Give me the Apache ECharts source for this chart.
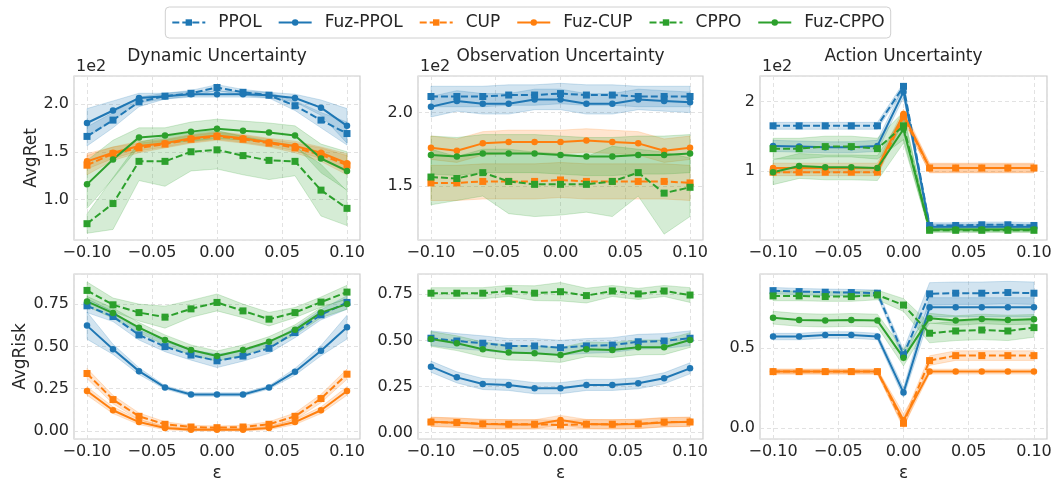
<!DOCTYPE html>
<html>
<head>
<meta charset="utf-8">
<script src="https://cdn.jsdelivr.net/npm/echarts@6/dist/echarts.min.js"></script>
<style>
  html, body { margin: 0; padding: 0; background: #fff; }
  #main { width: 1056px; height: 485px; }
</style>
</head>
<body>
<div id="main"></div>
<script>
const eps = [-0.10, -0.08, -0.06, -0.04, -0.02, 0.00, 0.02, 0.04, 0.06, 0.08, 0.10];
const methods = ['PPOL', 'Fuz-PPOL', 'CUP', 'Fuz-CUP', 'CPPO', 'Fuz-CPPO'];
const titles = ['Dynamic Uncertainty', 'Observation Uncertainty', 'Action Uncertainty'];

// AvgRet (raw units, axis shows them in 1e2)
const dynRetMean = [
  [166, 183, 202, 208, 211, 217, 212, 209, 198, 183, 169],
  [180, 193, 206, 208, 210, 210, 210, 209, 206, 196, 177],
  [136, 148, 154, 158, 163, 166, 163, 159, 154, 147, 136],
  [140, 149, 156, 159, 164, 167, 164, 160, 156, 149, 138],
  [75, 96, 140, 140, 150, 152, 146, 141, 140, 110, 91],
  [116, 142, 165, 167, 171, 174, 172, 170, 167, 143, 130]
];
const dynRetStd = [
  [10, 8, 5, 3, 3, 3, 3, 3, 5, 8, 12],
  [15, 10, 5, 3, 3, 3, 3, 3, 4, 8, 18],
  [10, 7, 5, 4, 4, 4, 4, 4, 5, 7, 10],
  [8, 6, 5, 4, 4, 4, 4, 4, 5, 6, 10],
  [10, 27, 20, 26, 20, 20, 20, 20, 15, 27, 18],
  [25, 20, 10, 8, 10, 10, 10, 10, 10, 15, 20]
];
const obsRetMean = [
  [211, 211, 211, 212, 212, 213, 212, 212, 211, 211, 211],
  [204, 208, 206, 206, 209, 209, 206, 206, 209, 208, 207],
  [152, 152, 153, 153, 153, 154, 153, 153, 153, 153, 152],
  [176, 174, 179, 180, 180, 180, 181, 180, 179, 174, 176],
  [156, 155, 159, 153, 151, 151, 151, 153, 159, 145, 149],
  [171, 170, 172, 172, 172, 171, 170, 170, 171, 171, 172]
];
const obsRetStd = [
  [7, 7, 7, 7, 7, 7, 7, 7, 7, 7, 7],
  [7, 7, 7, 7, 7, 7, 7, 7, 7, 7, 7],
  [12, 12, 12, 12, 12, 12, 12, 12, 12, 12, 12],
  [8, 8, 8, 8, 8, 8, 8, 8, 8, 8, 8],
  [19, 15, 16, 22, 22, 21, 19, 24, 16, 28, 20],
  [13, 13, 13, 13, 13, 13, 13, 13, 13, 13, 13]
];
const actRetMean = [
  [165, 165, 165, 165, 165, 222, 21, 21, 22, 22, 21],
  [136, 135, 134, 134, 136, 214, 19, 19, 19, 19, 19],
  [98, 98, 98, 98, 98, 178, 104, 104, 104, 104, 104],
  [104, 104, 104, 104, 104, 182, 104, 104, 104, 104, 104],
  [132, 132, 135, 135, 132, 165, 14, 14, 14, 14, 14],
  [98, 107, 105, 105, 104, 160, 15, 15, 15, 15, 15]
];
const actRetStd = [
  [5, 5, 5, 5, 5, 5, 4, 4, 4, 4, 4],
  [8, 8, 8, 8, 8, 8, 4, 4, 4, 4, 4],
  [5, 5, 5, 5, 5, 6, 6, 6, 6, 6, 6],
  [7, 7, 7, 7, 7, 7, 7, 7, 7, 7, 7],
  [15, 15, 15, 15, 15, 20, 3, 3, 3, 3, 3],
  [18, 18, 18, 18, 18, 20, 3, 3, 3, 3, 3]
];

// AvgRisk
const dynRiskMean = [
  [0.74, 0.677, 0.568, 0.499, 0.449, 0.415, 0.443, 0.489, 0.582, 0.687, 0.76],
  [0.623, 0.483, 0.354, 0.258, 0.216, 0.216, 0.216, 0.258, 0.35, 0.475, 0.614],
  [0.34, 0.186, 0.087, 0.04, 0.024, 0.02, 0.024, 0.04, 0.087, 0.192, 0.336],
  [0.237, 0.123, 0.053, 0.018, 0.008, 0.008, 0.008, 0.018, 0.053, 0.123, 0.237],
  [0.831, 0.746, 0.70, 0.673, 0.722, 0.76, 0.71, 0.661, 0.70, 0.762, 0.821],
  [0.766, 0.697, 0.611, 0.538, 0.479, 0.443, 0.479, 0.528, 0.598, 0.70, 0.75]
];
const dynRiskStd = [
  [0.04, 0.03, 0.03, 0.03, 0.03, 0.04, 0.03, 0.03, 0.03, 0.03, 0.04],
  [0.08, 0.03, 0.02, 0.01, 0.01, 0.01, 0.01, 0.01, 0.02, 0.03, 0.07],
  [0.03, 0.025, 0.02, 0.015, 0.01, 0.01, 0.01, 0.015, 0.02, 0.025, 0.03],
  [0.025, 0.02, 0.015, 0.01, 0.008, 0.008, 0.008, 0.01, 0.015, 0.02, 0.025],
  [0.05, 0.04, 0.05, 0.065, 0.05, 0.05, 0.04, 0.04, 0.03, 0.03, 0.04],
  [0.03, 0.03, 0.03, 0.03, 0.03, 0.03, 0.03, 0.03, 0.03, 0.03, 0.03]
];
const obsRiskMean = [
  [0.512, 0.497, 0.485, 0.47, 0.47, 0.461, 0.47, 0.475, 0.493, 0.497, 0.512],
  [0.358, 0.30, 0.264, 0.259, 0.241, 0.241, 0.259, 0.259, 0.268, 0.295, 0.349],
  [0.058, 0.055, 0.048, 0.046, 0.046, 0.042, 0.046, 0.046, 0.048, 0.058, 0.058],
  [0.06, 0.054, 0.047, 0.045, 0.045, 0.069, 0.047, 0.045, 0.047, 0.056, 0.06],
  [0.756, 0.756, 0.756, 0.768, 0.756, 0.764, 0.743, 0.768, 0.752, 0.768, 0.746],
  [0.508, 0.485, 0.452, 0.434, 0.43, 0.421, 0.452, 0.448, 0.463, 0.463, 0.502]
];
const obsRiskStd = [
  [0.04, 0.04, 0.04, 0.04, 0.04, 0.04, 0.04, 0.04, 0.04, 0.04, 0.04],
  [0.03, 0.03, 0.03, 0.03, 0.03, 0.03, 0.03, 0.03, 0.03, 0.03, 0.03],
  [0.025, 0.025, 0.025, 0.025, 0.025, 0.025, 0.025, 0.025, 0.025, 0.025, 0.025],
  [0.025, 0.025, 0.025, 0.025, 0.025, 0.025, 0.025, 0.025, 0.025, 0.025, 0.025],
  [0.03, 0.03, 0.03, 0.03, 0.04, 0.05, 0.04, 0.03, 0.03, 0.03, 0.04],
  [0.04, 0.04, 0.04, 0.04, 0.04, 0.04, 0.04, 0.04, 0.04, 0.04, 0.04]
];
const actRiskMean = [
  [0.86, 0.854, 0.85, 0.848, 0.844, 0.46, 0.84, 0.844, 0.844, 0.848, 0.844],
  [0.573, 0.573, 0.583, 0.583, 0.573, 0.223, 0.756, 0.756, 0.756, 0.756, 0.756],
  [0.354, 0.354, 0.354, 0.354, 0.354, 0.031, 0.423, 0.454, 0.454, 0.454, 0.454],
  [0.354, 0.354, 0.354, 0.354, 0.354, 0.05, 0.354, 0.354, 0.354, 0.354, 0.354],
  [0.827, 0.827, 0.823, 0.823, 0.833, 0.77, 0.594, 0.608, 0.614, 0.608, 0.629],
  [0.691, 0.677, 0.673, 0.677, 0.673, 0.44, 0.688, 0.673, 0.683, 0.677, 0.681]
];
const actRiskStd = [
  [0.02, 0.02, 0.02, 0.02, 0.02, 0.03, 0.07, 0.07, 0.07, 0.07, 0.07],
  [0.02, 0.02, 0.02, 0.02, 0.02, 0.03, 0.06, 0.06, 0.06, 0.06, 0.06],
  [0.015, 0.015, 0.015, 0.015, 0.015, 0.03, 0.03, 0.03, 0.03, 0.03, 0.03],
  [0.015, 0.015, 0.015, 0.015, 0.015, 0.04, 0.015, 0.015, 0.015, 0.015, 0.015],
  [0.03, 0.03, 0.03, 0.03, 0.03, 0.04, 0.06, 0.06, 0.06, 0.06, 0.06],
  [0.04, 0.04, 0.04, 0.04, 0.04, 0.05, 0.03, 0.03, 0.03, 0.03, 0.03]
];

const panels = [
  { mean: dynRetMean, std: dynRetStd, min: 58, max: 229, step: 50, fmt: v => (v / 100).toFixed(1) },
  { mean: obsRetMean, std: obsRetStd, min: 113, max: 225, step: 50, fmt: v => (v / 100).toFixed(1) },
  { mean: actRetMean, std: actRetStd, min: 0, max: 237, step: 100, fmt: v => (v / 100).toFixed(0) },
  { mean: dynRiskMean, std: dynRiskStd, min: -0.047, max: 0.928, step: 0.25, fmt: v => v.toFixed(2) },
  { mean: obsRiskMean, std: obsRiskStd, min: -0.034, max: 0.86, step: 0.25, fmt: v => v.toFixed(2) },
  { mean: actRiskMean, std: actRiskStd, min: -0.067, max: 0.964, step: 0.5, fmt: v => v.toFixed(1) }
];

const colors = ['#1f77b4', '#1f77b4', '#ff7f0e', '#ff7f0e', '#2ca02c', '#2ca02c'];
const lefts = [74, 418, 760];
const widths = [286, 285, 287];
const tops = [76, 274];
const heights = [164, 165];
const textColor = '#262626';
const font = 'DejaVu Sans';

const grids = [], xAxes = [], yAxes = [], series = [], titleList = [], graphics = [];

// shaded band between lo and hi, drawn as one polygon through the axis coordinates
function bandRender(lo, hi, color) {
  return function (params, api) {
    if (params.dataIndex !== 0) return null;
    const top = eps.map((x, j) => api.coord([x, hi[j]]));
    const bottom = eps.map((x, j) => api.coord([x, lo[j]])).reverse();
    return {
      type: 'polygon',
      shape: { points: top.concat(bottom) },
      style: { fill: color, stroke: color, lineWidth: 1, opacity: 0.2 }
    };
  };
}

panels.forEach((p, i) => {
  const col = i % 3, row = Math.floor(i / 3);
  grids.push({
    left: lefts[col], top: tops[row], width: widths[col], height: heights[row],
    show: true, borderColor: '#cccccc', borderWidth: 1.2, backgroundColor: '#fff'
  });
  xAxes.push({
    type: 'value', gridIndex: i, min: -0.11, max: 0.11, minInterval: 0.05, maxInterval: 0.05,
    axisLine: { show: false }, axisTick: { show: false },
    splitLine: { show: true, lineStyle: { color: '#e2e2e2', type: [4, 3] } },
    axisLabel: {
      color: textColor, fontSize: 16, fontFamily: font, margin: 5, showMinLabel: false, showMaxLabel: false,
      formatter: v => (v < -1e-9 ? '\u2212' : '') + Math.abs(v).toFixed(2)
    },
    name: row === 1 ? '\u03b5' : '', nameLocation: 'middle', nameGap: 26,
    nameTextStyle: { color: textColor, fontSize: 17, fontFamily: font }
  });
  yAxes.push({
    type: 'value', gridIndex: i, min: p.min, max: p.max, minInterval: p.step, maxInterval: p.step,
    axisLine: { show: false }, axisTick: { show: false },
    splitLine: { show: true, lineStyle: { color: '#e2e2e2', type: [4, 3] } },
    axisLabel: { color: textColor, fontSize: 16, fontFamily: font, margin: 5, showMinLabel: false, showMaxLabel: false, formatter: p.fmt },
    name: col === 0 ? (row === 0 ? 'AvgRet' : 'AvgRisk') : '',
    nameLocation: 'middle', nameGap: 26, nameRotate: 90,
    nameTextStyle: { color: textColor, fontSize: 17, fontFamily: font }
  });
  if (row === 0) {
    titleList.push({
      text: titles[col], left: lefts[col] + widths[col] / 2, textAlign: 'center', top: 48, padding: 0,
      textStyle: { color: textColor, fontSize: 17, fontWeight: 'normal', fontFamily: font }
    });
    graphics.push({
      type: 'text', left: lefts[col] + 2, top: 59,
      style: { text: '1e2', fill: textColor, fontSize: 16, fontFamily: font }
    });
  }
  p.mean.forEach((m, k) => {
    const c = colors[k];
    const dashed = k % 2 === 0;
    const s = p.std[k];
    const lo = m.map((v, j) => v - s[j]);
    const hi = m.map((v, j) => v + s[j]);
    series.push({
      type: 'custom', name: 'band', xAxisIndex: i, yAxisIndex: i, silent: true, z: 1,
      data: eps.map((x, j) => [x, lo[j], hi[j]]),
      encode: { x: 0, y: [1, 2] },
      renderItem: bandRender(lo, hi, c)
    });
    series.push({
      type: 'line', name: methods[k], xAxisIndex: i, yAxisIndex: i,
      data: eps.map((x, j) => [x, m[j]]),
      symbol: dashed ? 'rect' : 'circle', symbolSize: dashed ? 7 : 6.5, z: 3,
      itemStyle: { color: c },
      lineStyle: { color: c, width: 2, type: dashed ? [7, 3] : 'solid' }
    });
  });
});

const myChart = echarts.init(document.getElementById('main'));
myChart.setOption({
  animation: false,
  backgroundColor: '#fff',
  textStyle: { fontFamily: font },
  title: titleList,
  graphic: graphics,
  legend: {
    data: methods, top: 7, left: 'center',
    borderColor: '#d0d0d0', borderWidth: 1, borderRadius: 4, padding: [7, 6],
    itemWidth: 33, itemHeight: 8, itemGap: 16,
    textStyle: { color: textColor, fontSize: 17, fontFamily: font, padding: [0, 0, 0, 8] }
  },
  grid: grids,
  xAxis: xAxes,
  yAxis: yAxes,
  series: series
});
</script>
</body>
</html>
